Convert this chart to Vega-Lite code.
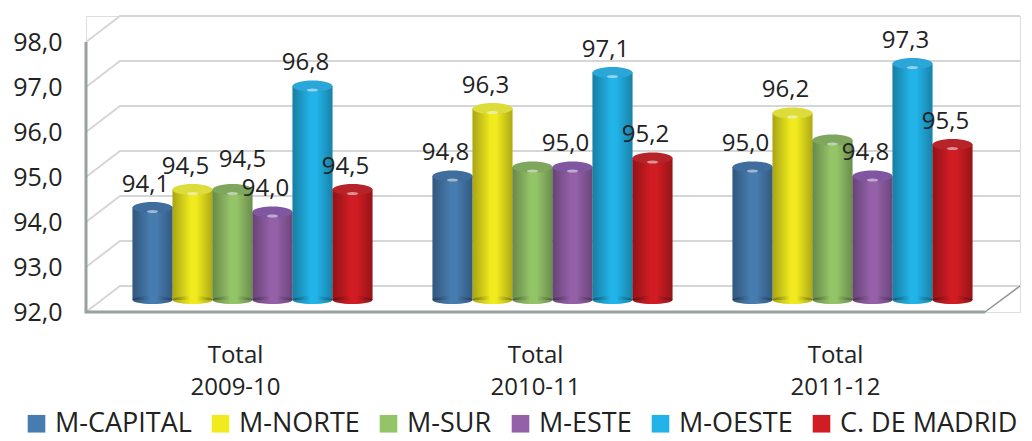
{
"$schema":"https://vega.github.io/schema/vega-lite/v6.json",
"width":934,"height":296,
"autosize":{"type":"none"},
"padding":{"left":86,"top":16,"right":12,"bottom":129},
"background":"white",
"datasets":{
"bars":[
{"periodo":"Total|2009-10","zona":"M-CAPITAL","valor":94.1,"etiqueta":"94,1"},
{"periodo":"Total|2009-10","zona":"M-NORTE","valor":94.5,"etiqueta":"94,5"},
{"periodo":"Total|2009-10","zona":"M-SUR","valor":94.5,"etiqueta":"94,5"},
{"periodo":"Total|2009-10","zona":"M-ESTE","valor":94.0,"etiqueta":"94,0"},
{"periodo":"Total|2009-10","zona":"M-OESTE","valor":96.8,"etiqueta":"96,8"},
{"periodo":"Total|2009-10","zona":"C. DE MADRID","valor":94.5,"etiqueta":"94,5"},
{"periodo":"Total|2010-11","zona":"M-CAPITAL","valor":94.8,"etiqueta":"94,8"},
{"periodo":"Total|2010-11","zona":"M-NORTE","valor":96.3,"etiqueta":"96,3"},
{"periodo":"Total|2010-11","zona":"M-SUR","valor":95.0,"etiqueta":""},
{"periodo":"Total|2010-11","zona":"M-ESTE","valor":95.0,"etiqueta":"95,0"},
{"periodo":"Total|2010-11","zona":"M-OESTE","valor":97.1,"etiqueta":"97,1"},
{"periodo":"Total|2010-11","zona":"C. DE MADRID","valor":95.2,"etiqueta":"95,2"},
{"periodo":"Total|2011-12","zona":"M-CAPITAL","valor":95.0,"etiqueta":"95,0"},
{"periodo":"Total|2011-12","zona":"M-NORTE","valor":96.2,"etiqueta":"96,2"},
{"periodo":"Total|2011-12","zona":"M-SUR","valor":95.6,"etiqueta":""},
{"periodo":"Total|2011-12","zona":"M-ESTE","valor":94.8,"etiqueta":"94,8"},
{"periodo":"Total|2011-12","zona":"M-OESTE","valor":97.3,"etiqueta":"97,3"},
{"periodo":"Total|2011-12","zona":"C. DE MADRID","valor":95.5,"etiqueta":"95,5"}
],
"grid":[
{"nivel":"93","p":0,"v":93},{"nivel":"93","p":34,"v":93.578},{"nivel":"93","p":934,"v":93.578},
{"nivel":"94","p":0,"v":94},{"nivel":"94","p":34,"v":94.578},{"nivel":"94","p":934,"v":94.578},
{"nivel":"95","p":0,"v":95},{"nivel":"95","p":34,"v":95.578},{"nivel":"95","p":934,"v":95.578},
{"nivel":"96","p":0,"v":96},{"nivel":"96","p":34,"v":96.578},{"nivel":"96","p":934,"v":96.578},
{"nivel":"97","p":0,"v":97},{"nivel":"97","p":34,"v":97.578},{"nivel":"97","p":934,"v":97.578},
{"nivel":"98","p":0,"v":98},{"nivel":"98","p":34,"v":98.578},{"nivel":"98","p":934,"v":98.578},
{"nivel":"92","p":0,"v":92},{"nivel":"92","p":34,"v":92.578},{"nivel":"92","p":934,"v":92.578}
],
"piso":[
{"p":899,"v":92},{"p":934,"v":92.578}
],
"ejes":[
{"nivel":"pared","p":0,"v":98},{"nivel":"pared","p":0,"v":92},{"nivel":"pared","p":899,"v":92}
]
},
"resolve":{"scale":{"x":"independent"}},
"layer":[
{"data":{"name":"grid"},
 "mark":{"type":"line","color":"#d6d6d6","strokeWidth":2,"interpolate":"linear"},
 "encoding":{
  "x":{"field":"p","type":"quantitative","scale":{"domain":[0,934]},"axis":null},
  "y":{"field":"v","type":"quantitative","scale":{"domain":[92,98.578],"nice":false,"zero":false},
    "axis":{"values":[92,93,94,95,96,97,98],"title":null,"domain":false,"ticks":false,"grid":false,"labelPadding":24,
      "labelFont":"Open Sans","labelFontSize":25,"labelColor":"#222222","labelExpr":"replace(format(datum.value,'.1f'),'.',',')"}},
  "detail":{"field":"nivel"},
  "order":{"field":"p"}
 }},
{"data":{"name":"piso"},
 "mark":{"type":"line","color":"#8f9495","strokeWidth":1.5},
 "encoding":{
  "x":{"field":"p","type":"quantitative","scale":{"domain":[0,934]},"axis":null},
  "y":{"field":"v","type":"quantitative"}
 }},
{"data":{"name":"ejes"},
 "mark":{"type":"line","color":"#9a9fa0","strokeWidth":3},
 "encoding":{
  "x":{"field":"p","type":"quantitative","scale":{"domain":[0,934]},"axis":null},
  "y":{"field":"v","type":"quantitative"},
  "order":{"field":"p","sort":"ascending"}
 }},
{"data":{"name":"bars"},
 "encoding":{
  "x":{"field":"periodo","type":"nominal","sort":null,
    "scale":{"range":[16.5,916.5],"paddingInner":0,"paddingOuter":0},
    "axis":{"title":null,"domain":false,"ticks":false,"labelAngle":0,"labelPadding":31,"labelOffset":-17,
      "labelFont":"Open Sans","labelFontSize":24,"labelColor":"#222222","labelLineHeight":32,"labelExpr":"split(datum.value,'|')"}},
  "xOffset":{"field":"zona","type":"nominal","scale":{"domain":["M-CAPITAL","M-NORTE","M-SUR","M-ESTE","M-OESTE","C. DE MADRID"],"paddingInner":0,"paddingOuter":0.75}}
 },
 "layer":[
  {"mark":{"type":"bar","yOffset":-10,"y2Offset":-12},
   "encoding":{
    "y":{"field":"valor","type":"quantitative"},
    "y2":{"datum":92},
    "color":{"field":"zona","type":"nominal",
      "scale":{"domain":["M-CAPITAL","M-NORTE","M-SUR","M-ESTE","M-OESTE","C. DE MADRID"],
       "range":["#477cb0","#f0ea1e","#94c468","#9460a8","#22b3e8","#d01c22"]},
      "legend":{"orient":"none","legendX":-63,"legendY":394,"direction":"horizontal","columns":6,"title":null,
        "symbolType":"square","symbolSize":310,"symbolStrokeWidth":0,"labelFont":"Open Sans","labelFontSize":27,"labelColor":"#222222",
        "columnPadding":15,"symbolOffset":0,"labelOffset":5,"labelLimit":300}}
   }},
  {"mark":{"type":"point","shape":"M -1 0 A 1 0.2 0 1 1 1 0 A 1 0.2 0 1 1 -1 0 Z","size":1600,"filled":true,"opacity":1,"yOffset":-12},
   "encoding":{
    "y":{"datum":92},
    "color":{"field":"zona","type":"nominal"}
   }},
  {"mark":{"type":"point","shape":"M -1 0 A 1 0.2 0 1 1 1 0 A 1 0.2 0 1 1 -1 0 Z","size":1600,"filled":true,"opacity":1,"yOffset":-12,
     "color":{"gradient":"linear","x1":0,"x2":1,"y1":0,"y2":0,"stops":[{"offset":0,"color":"rgba(0,0,0,0.3)"},{"offset":0.45,"color":"rgba(0,0,0,0)"},{"offset":0.6,"color":"rgba(0,0,0,0)"},{"offset":1,"color":"rgba(0,0,0,0.28)"}]}},
   "encoding":{"y":{"datum":92}}
  },
  {"mark":{"type":"bar","yOffset":-10,"y2Offset":-12,"opacity":1,
     "color":{"gradient":"linear","x1":0,"x2":1,"y1":0,"y2":0,"stops":[{"offset":0,"color":"rgba(0,0,0,0.3)"},{"offset":0.45,"color":"rgba(0,0,0,0)"},{"offset":0.6,"color":"rgba(0,0,0,0)"},{"offset":1,"color":"rgba(0,0,0,0.28)"}]}},
   "encoding":{"y":{"field":"valor","type":"quantitative"},"y2":{"datum":92}}
  },
  {"mark":{"type":"point","shape":"M -1 0 A 1 0.28 0 1 1 1 0 A 1 0.28 0 1 1 -1 0 Z","size":1600,"filled":true,"opacity":1,"yOffset":-10},
   "encoding":{
    "y":{"field":"valor","type":"quantitative"},
    "fill":{"field":"zona","type":"nominal","legend":null,
      "scale":{"domain":["M-CAPITAL","M-NORTE","M-SUR","M-ESTE","M-OESTE","C. DE MADRID"],
       "range":["#3f6d9e","#dcdc3a","#7ea65c","#8156a0","#2aa6d8","#b6242a"]}}
   }},
  {"mark":{"type":"point","shape":"M -1 0 A 1 0.28 0 1 1 1 0 A 1 0.28 0 1 1 -1 0 Z","size":130,"filled":true,"color":"white","opacity":0.5,"yOffset":-6},
   "encoding":{"y":{"field":"valor","type":"quantitative"}}
  },
  {"transform":[{"filter":"datum.etiqueta !== '' && !(datum.zona === 'M-SUR')"}],
   "mark":{"type":"text","font":"Open Sans","fontSize":24,"color":"#222222","dx":-7,"dy":-33},
   "encoding":{"y":{"field":"valor","type":"quantitative"},"text":{"field":"etiqueta"}}
  },
  {"transform":[{"filter":"datum.etiqueta !== '' && datum.zona === 'M-SUR'"}],
   "mark":{"type":"text","font":"Open Sans","fontSize":24,"color":"#222222","dx":10,"dy":-40},
   "encoding":{"y":{"field":"valor","type":"quantitative"},"text":{"field":"etiqueta"}}
  }
 ]}
]
}
